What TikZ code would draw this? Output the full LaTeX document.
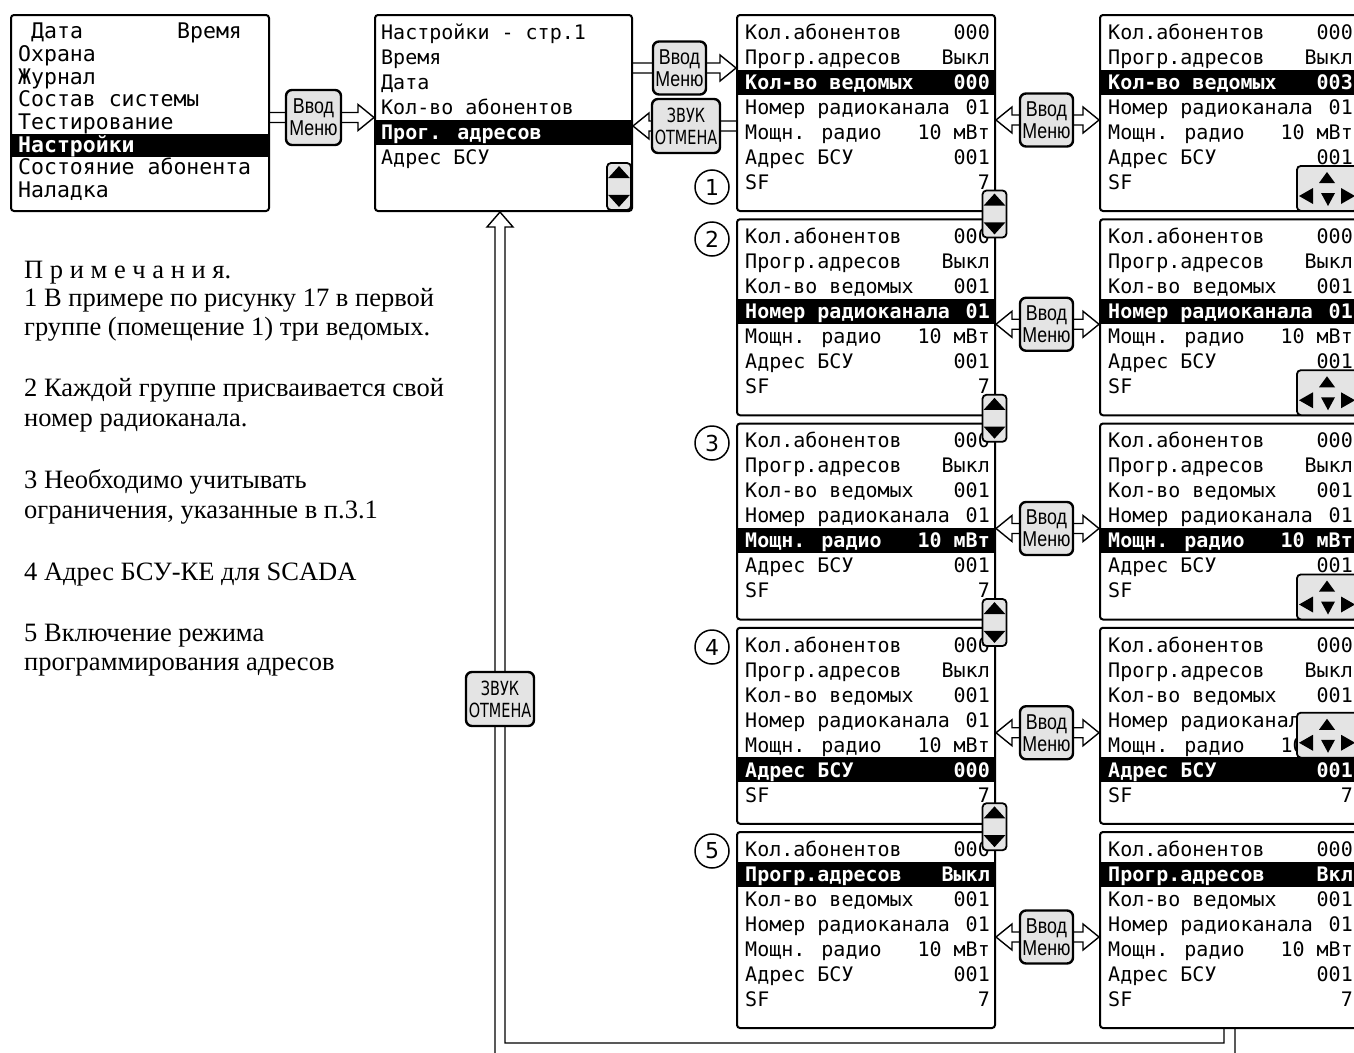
\documentclass[tikz,border=0pt]{standalone}
\usepackage{fontspec}
\setmainfont{Liberation Serif}
\newfontfamily\scrfont{DejaVu Sans Mono}
\newfontfamily\btnfont[FakeStretch=0.83]{Liberation Sans}
\newfontfamily\zvfont[FakeStretch=0.74]{DejaVu Sans}
\newfontfamily\numfont{DejaVu Sans}
\usetikzlibrary{calc,backgrounds}
\definecolor{btngray}{RGB}{228,228,228}
\tikzset{
 scr/.style={draw, line width=2pt, rounded corners=3pt, fill=white, inner sep=0pt,
   minimum width=258pt, minimum height=196pt, anchor=north west},
 txt/.style={font=\scrfont\fontsize{20pt}{20pt}\selectfont, inner sep=0pt, text height=14.6pt, text depth=0pt},
 hltxt/.style={txt, text=white, font=\scrfont\fontsize{20pt}{20pt}\selectfont\bfseries},
 atxt/.style={font=\scrfont\fontsize{21.5pt}{21.5pt}\selectfont, inner sep=0pt, text height=15.7pt, text depth=0pt, anchor=west},
 ahltxt/.style={atxt, text=white, font=\scrfont\fontsize{21.5pt}{21.5pt}\selectfont\bfseries},
 btn/.style={draw, line width=2.4pt, rounded corners=6pt, fill=btngray, inner sep=0pt,
   minimum width=53pt, minimum height=53pt, align=center, font=\btnfont\fontsize{21.5pt}{22pt}\selectfont},
 zvbtn/.style={btn, minimum width=68pt, minimum height=54pt, font=\zvfont\fontsize{19.5pt}{22pt}\selectfont},
 icon/.style={draw, line width=1.8pt, rounded corners=4pt, fill=btngray, inner sep=0pt},
 arr/.style={draw, line width=1.4pt, line join=miter},
 num/.style={circle, draw, line width=1.5pt, minimum size=34pt, inner sep=0pt, font=\numfont\fontsize{22pt}{22pt}\selectfont},
 note/.style={font=\fontsize{26.5pt}{30pt}\selectfont, inner sep=0pt, anchor=base west},
}
% screen box with 7 lines
\newcommand\screen[7]{%
 \node[scr] (#1) at (#2,#3) {};
 \fill ($(#1.north west)+(0,-19.5+25*#4)$) rectangle ($(#1.north east)+(0,5.5+25*#4)$);
 \foreach \ii/\lab/\val in {1/Кол.абонентов/000, 2/Прогр.адресов/#5, 3/Кол-во ведомых/#6,
   4/Номер радиоканала/01, 5/Мощн. радио/10 мВт, 6/Адрес БСУ/#7, 7/SF/7}{%
   \ifnum\ii=#4\relax
     \node[hltxt, anchor=west] at ($(#1.north west)+(9,-7+25*\ii)$) {\lab};
     \node[hltxt, anchor=east] at ($(#1.north east)+(-6,-7+25*\ii)$) {\val};
   \else
     \node[txt, anchor=west] at ($(#1.north west)+(9,-7+25*\ii)$) {\lab};
     \node[txt, anchor=east] at ($(#1.north east)+(-6,-7+25*\ii)$) {\val};
   \fi}%
}
\newcommand\updown[3]{%
 \node[icon, minimum width=24pt, minimum height=47pt] (#1) at (#2,#3) {};
 \fill ($(#1.north)+(0,4)$) -- ($(#1.north west)+(2,16)$) -- ($(#1.north east)+(-2,16)$) -- cycle;
 \fill ($(#1.south)+(0,-4)$) -- ($(#1.south west)+(2,-16)$) -- ($(#1.south east)+(-2,-16)$) -- cycle;
}
\newcommand\navicon[3]{%
 \node[icon, minimum width=61pt, minimum height=45pt, anchor=north west] (#1) at (#2,#3) {};
 \fill ($(#1.north west)+(31,7)$) -- ($(#1.north west)+(23,18)$) -- ($(#1.north west)+(39,18)$) -- cycle;
 \fill ($(#1.north west)+(3,31)$) -- ($(#1.north west)+(17,23)$) -- ($(#1.north west)+(17,39)$) -- cycle;
 \fill ($(#1.north west)+(32,41)$) -- ($(#1.north west)+(25,28)$) -- ($(#1.north west)+(39,28)$) -- cycle;
 \fill ($(#1.north west)+(59,31)$) -- ($(#1.north west)+(45,23)$) -- ($(#1.north west)+(45,39)$) -- cycle;
}
% hollow arrows: from #1 to #2 at height of #3
\newcommand\harrR[3]{%
 \draw[arr] ($(#1|-#3)+(0,-5)$) -- ($(#2|-#3)+(-16,-5)$) -- ($(#2|-#3)+(-16,-13)$) -- (#2|-#3)
   -- ($(#2|-#3)+(-16,13)$) -- ($(#2|-#3)+(-16,5)$) -- ($(#1|-#3)+(0,5)$);}
\newcommand\harrL[3]{%
 \draw[arr] ($(#1|-#3)+(0,-5)$) -- ($(#2|-#3)+(16,-5)$) -- ($(#2|-#3)+(16,-13)$) -- (#2|-#3)
   -- ($(#2|-#3)+(16,13)$) -- ($(#2|-#3)+(16,5)$) -- ($(#1|-#3)+(0,5)$);}
\newcommand\harrLR[3]{%
 \draw[arr] (#1|-#3) -- ($(#1|-#3)+(16,-13)$) -- ($(#1|-#3)+(16,-5)$) -- ($(#2|-#3)+(-16,-5)$)
   -- ($(#2|-#3)+(-16,-13)$) -- (#2|-#3) -- ($(#2|-#3)+(-16,13)$) -- ($(#2|-#3)+(-16,5)$)
   -- ($(#1|-#3)+(16,5)$) -- ($(#1|-#3)+(16,13)$) -- cycle;}
\begin{document}
\begin{tikzpicture}[x=1pt,y=-1pt]
\useasboundingbox (0,0) rectangle (1354,1052);
% ---------- main menu ----------
\node[scr] (A) at (10,14) {};
\fill ($(A.north west)+(0,120)$) rectangle ($(A.north east)+(0,143)$);
\node[atxt] (a1) at ($(A.north west)+(21,17)$) {Дата};
\node[atxt] (a1b) at ($(A.north west)+(167,17)$) {Время};
\node[atxt] (a2) at ($(A.north west)+(8,39.65)$) {Охрана};
\node[atxt] (a3) at ($(A.north west)+(8,62.3)$) {Журнал};
\node[atxt] (a4) at ($(A.north west)+(8,84.95)$) {Состав системы};
\node[atxt] (a5) at ($(A.north west)+(8,107.6)$) {Тестирование};
\node[ahltxt] (a6) at ($(A.north west)+(8,130.8)$) {Настройки};
\node[atxt] (a7) at ($(A.north west)+(8,152.9)$) {Состояние абонента};
\node[atxt] (a8) at ($(A.north west)+(8,175.55)$) {Наладка};
% ---------- settings page ----------
\node[scr, minimum width=257pt] (B) at (374,14) {};
\fill ($(B.north west)+(0,105.5)$) rectangle ($(B.north east)+(0,130.5)$);
\node[txt, anchor=west] (b1t) at ($(B.north west)+(7,18)$) {Настройки - стр.1};
\node[txt, anchor=west] (b2t) at ($(B.north west)+(7,43)$) {Время};
\node[txt, anchor=west] (b3t) at ($(B.north west)+(7,68)$) {Дата};
\node[txt, anchor=west] (b4t) at ($(B.north west)+(7,93)$) {Кол-во абонентов};
\node[hltxt, anchor=west] (b5t) at ($(B.north west)+(7,118)$) {Прог. адресов};
\node[txt, anchor=west] (b6t) at ($(B.north west)+(7,143)$) {Адрес БСУ};
\updown{sB}{619}{186.5}
% ---------- screens ----------
\screen{C1}{736}{14}{3}{Выкл}{000}{001}
\screen{D1}{1099}{14}{3}{Выкл}{003}{001}
\screen{C2}{736}{218.25}{4}{Выкл}{001}{001}
\screen{D2}{1099}{218.25}{4}{Выкл}{001}{001}
\screen{C3}{736}{422.5}{5}{Выкл}{001}{001}
\screen{D3}{1099}{422.5}{5}{Выкл}{001}{001}
\screen{C4}{736}{626.75}{6}{Выкл}{001}{000}
\screen{D4}{1099}{626.75}{6}{Выкл}{001}{001}
\screen{C5}{736}{831}{2}{Выкл}{001}{001}
\screen{D5}{1099}{831}{2}{Вкл}{001}{001}
\updown{s1}{994.5}{214}
\updown{s2}{994.5}{418.25}
\updown{s3}{994.5}{622.5}
\updown{s4}{994.5}{826.75}
\navicon{n1}{1296}{165}
\navicon{n2}{1296}{369.25}
\navicon{n3}{1296}{573.5}
\navicon{n4}{1296}{711.75}
% ---------- numbers ----------
\node[num] (k1) at (712,187) {1};
\node[num] (k2) at (712,239) {2};
\node[num] (k3) at (712,443) {3};
\node[num] (k4) at (712,647) {4};
\node[num] (k5) at (712,851) {5};
% ---------- buttons ----------
\node[btn, minimum width=55pt, minimum height=55pt] (bt1) at (313.5,117.5) {Ввод\\Меню};
\node[btn] (bt2) at (679.5,68) {Ввод\\Меню};
\node[zvbtn] (bt3) at (686,126) {ЗВУК\\ОТМЕНА};
\node[zvbtn] (bt4) at (500,699) {ЗВУК\\ОТМЕНА};
\node[btn] (e1) at (1046.5,120) {Ввод\\Меню};
\node[btn] (e2) at (1046.5,324.25) {Ввод\\Меню};
\node[btn] (e3) at (1046.5,528.5) {Ввод\\Меню};
\node[btn] (e4) at (1046.5,732.75) {Ввод\\Меню};
\node[btn] (e5) at (1046.5,937) {Ввод\\Меню};
% ---------- connectors ----------
\begin{pgfonlayer}{background}
\harrR{A.east}{B.west}{bt1}
\harrR{B.east}{C1.west}{bt2}
\harrL{C1.west}{B.east}{bt3}
\harrLR{C1.east}{D1.west}{e1}
\harrLR{C2.east}{D2.west}{e2}
\harrLR{C3.east}{D3.west}{e3}
\harrLR{C4.east}{D4.west}{e4}
\harrLR{C5.east}{D5.west}{e5}
\draw[arr] let \p1=(B.south-|bt4), \p2=(D5.south) in
  (\x2+6pt,\y2) -- (\x2+6pt,\y2-40pt) -- (\x1-5pt,\y2-40pt) -- (\x1-5pt,\y1-15pt)
  -- (\x1-13pt,\y1-15pt) -- (\x1,\y1) -- (\x1+13pt,\y1-15pt) -- (\x1+5pt,\y1-15pt)
  -- (\x1+5pt,\y2-14pt) -- (\x2-5pt,\y2-14pt) -- (\x2-5pt,\y2);
\end{pgfonlayer}
% ---------- notes ----------
\node[note] (t0) at (24,278) {П р и м е ч а н и я.};
\node[note] (t1) at (24,306) {1 В примере по рисунку 17 в первой};
\node[note] (t2) at (24,335) {группе (помещение 1) три ведомых.};
\node[note] (t3) at (24,396) {2 Каждой группе присваивается свой};
\node[note] (t4) at (24,426) {номер радиоканала.};
\node[note] (t5) at (24,488) {3 Необходимо учитывать};
\node[note] (t6) at (24,518) {ограничения, указанные в п.3.1};
\node[note] (t7) at (24,580) {4 Адрес БСУ-КЕ для SCADA};
\node[note] (t8) at (24,641) {5 Включение режима};
\node[note] (t9) at (24,670) {программирования адресов};
\end{tikzpicture}
\end{document}
